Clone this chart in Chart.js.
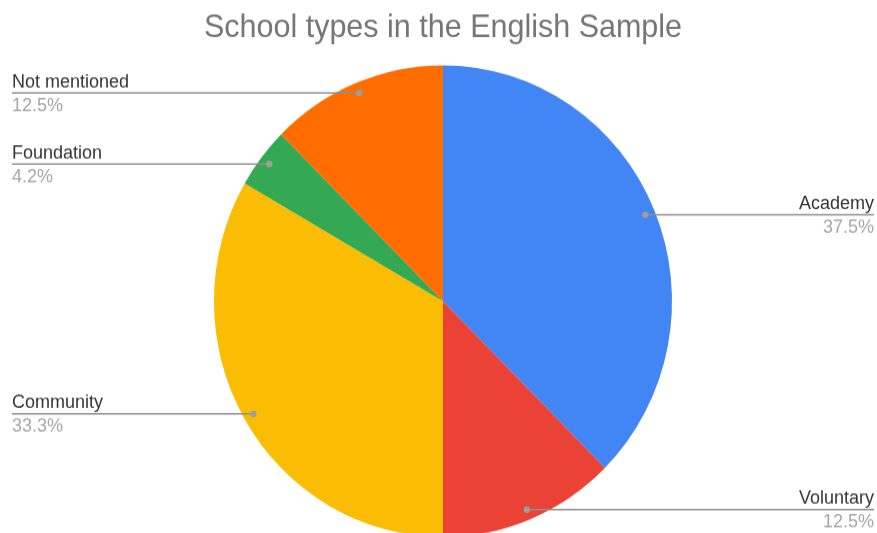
<!DOCTYPE html>
<html>
<head>
<meta charset="utf-8">
<script src="https://cdn.jsdelivr.net/npm/chart.js@4"></script>
<style>
  html, body { margin: 0; padding: 0; background: #fff; }
  #wrap { width: 877px; height: 533px; overflow: hidden; }
  /* the reference is stretched a little vertically */
  #chart { transform: scaleY(1.03); transform-origin: 0 0; display: block; }
</style>
</head>
<body>
<div id="wrap"><canvas id="chart" width="877" height="530"></canvas></div>
<script>
// School types data
var schoolTypes = ["Academy", "Voluntary", "Community", "Foundation", "Not mentioned"];
var schoolCounts = [9, 3, 8, 1, 3];
var sliceColors = ['#4285f4', '#ea4335', '#fbbc04', '#34a853', '#ff6d01'];

var FONT = "Arial, 'Liberation Sans', sans-serif";

// leader lines with name + percentage
var leaderLabels = {
  id: 'leaderLabels',
  afterDatasetsDraw: function(chart) {
    var ctx = chart.ctx;
    var meta = chart.getDatasetMeta(0);
    var data = chart.data.datasets[0].data;
    var total = data.reduce(function(a, b) { return a + b; }, 0);
    var W = chart.width;
    ctx.save();
    meta.data.forEach(function(arc, i) {
      var p = arc.getProps(['x', 'y', 'startAngle', 'endAngle', 'outerRadius']);
      var mid = (p.startAngle + p.endAngle) / 2;
      var dx = p.x + Math.cos(mid) * p.outerRadius * 0.956;
      var dy = p.y + Math.sin(mid) * p.outerRadius * 0.956;
      var right = Math.cos(mid) > 0;
      var edge = right ? W - 3 : 12;

      ctx.strokeStyle = '#8f8f8f';
      ctx.lineWidth = 1.5;
      ctx.beginPath();
      ctx.moveTo(dx, dy);
      ctx.lineTo(edge, dy);
      ctx.stroke();

      ctx.fillStyle = '#9e9e9e';
      ctx.beginPath();
      ctx.arc(dx, dy, 3.2, 0, Math.PI * 2);
      ctx.fill();

      ctx.font = '18px ' + FONT;
      ctx.textAlign = right ? 'right' : 'left';
      ctx.textBaseline = 'alphabetic';
      ctx.fillStyle = '#333333';
      ctx.fillText(chart.data.labels[i], edge, dy - 5.5);
      ctx.fillStyle = '#a6a6a6';
      ctx.fillText((data[i] / total * 100).toFixed(1) + '%', edge, dy + 17.5);
    });
    ctx.restore();
  }
};

var chart = new Chart(document.getElementById('chart'), {
  type: 'pie',
  data: {
    labels: schoolTypes,
    datasets: [{
      data: schoolCounts,
      backgroundColor: sliceColors,
      borderWidth: 0
    }]
  },
  options: {
    responsive: false,
    animation: false,
    layout: { padding: { left: 9, right: 0, top: 0, bottom: 8.6 } },
    plugins: {
      legend: { display: false },
      tooltip: { enabled: false },
      title: {
        display: true,
        text: 'School types in the English Sample',
        color: '#757575',
        font: { family: FONT, size: 30.5, weight: 'normal', lineHeight: 1.2 },
        padding: { top: 9, bottom: 17.8 }
      }
    }
  },
  plugins: [leaderLabels]
});
</script>
</body>
</html>
